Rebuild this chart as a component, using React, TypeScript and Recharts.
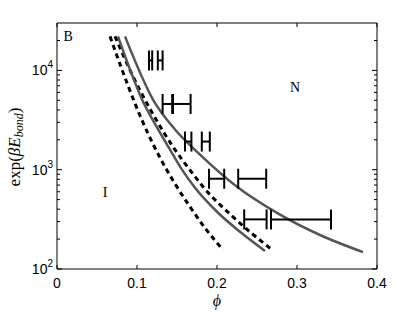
import React from 'react';
import {
  ComposedChart,
  Line,
  Scatter,
  ErrorBar,
  XAxis,
  YAxis,
  ReferenceArea,
  ReferenceDot
} from 'recharts';

// boundary curves (phi, exp(beta E_bond))
const dashedLeft = [
  { x: 0.06625, y: 22000 },
  { x: 0.08125, y: 10200 },
  { x: 0.0975, y: 4640 },
  { x: 0.11375, y: 2310 },
  { x: 0.12875, y: 1320 },
  { x: 0.1475, y: 722 },
  { x: 0.16625, y: 423 },
  { x: 0.185, y: 259 },
  { x: 0.2075, y: 156 }
];
const solidLeft = [
  { x: 0.07625, y: 22000 },
  { x: 0.09125, y: 10200 },
  { x: 0.10625, y: 5090 },
  { x: 0.12375, y: 2780 },
  { x: 0.14125, y: 1590 },
  { x: 0.15625, y: 1000 },
  { x: 0.1725, y: 658 },
  { x: 0.2, y: 377 },
  { x: 0.22875, y: 237 },
  { x: 0.26, y: 152 }
];
const dashedRight = [
  { x: 0.0725, y: 22000 },
  { x: 0.09375, y: 9120 },
  { x: 0.11875, y: 3770 },
  { x: 0.1475, y: 1590 },
  { x: 0.16875, y: 933 },
  { x: 0.1825, y: 674 },
  { x: 0.22, y: 335 },
  { x: 0.26875, y: 156 }
];
const solidRight = [
  { x: 0.085, y: 22000 },
  { x: 0.12, y: 5090 },
  { x: 0.1475, y: 2540 },
  { x: 0.17875, y: 1420 },
  { x: 0.225, y: 674 },
  { x: 0.275, y: 368 },
  { x: 0.32875, y: 220 },
  { x: 0.3825, y: 148 }
];

// measured transition points with horizontal error
const errPoints = [
  { x: 0.117, y: 12600, err: 0.002 },
  { x: 0.129, y: 12600, err: 0.003 },
  { x: 0.138, y: 4590, err: 0.006 },
  { x: 0.156, y: 4590, err: 0.011 },
  { x: 0.164, y: 1920, err: 0.004 },
  { x: 0.186, y: 1920, err: 0.005 },
  { x: 0.1995, y: 811, err: 0.0095 },
  { x: 0.244, y: 811, err: 0.0175 },
  { x: 0.248, y: 316, err: 0.014 },
  { x: 0.305, y: 316, err: 0.0375 }
];

const xTicks = [0, 0.1, 0.2, 0.3, 0.4];
const yMajor = [100, 1000, 10000];
const yTicks = [
  100, 200, 300, 400, 500, 600, 700, 800, 900,
  1000, 2000, 3000, 4000, 5000, 6000, 7000, 8000, 9000,
  10000, 20000
];

const regionLabels = [
  { x: 0.014, y: 22000, text: 'B' },
  { x: 0.2975, y: 6730, text: 'N' },
  { x: 0.06, y: 600, text: 'I' }
];

const PLOT_W = 320;
const PLOT_H = 246;
const SANS = '"Liberation Sans", Arial, sans-serif';
const SERIF = '"Liberation Serif", "Times New Roman", serif';

function YTick(props: any) {
  const { x, y, payload } = props;
  const major = yMajor.includes(payload.value);
  const len = major ? 5 : 3;
  const exp = Math.round(Math.log10(payload.value));
  return (
    <g>
      <line x1={x} x2={x + len} y1={y} y2={y} stroke="#000" />
      <line x1={x + PLOT_W} x2={x + PLOT_W - len} y1={y} y2={y} stroke="#000" />
      {major && (
        <text x={x - 4} y={y + 5} textAnchor="end" fontSize={14} fontFamily={SANS} fill="#000">
          10
          <tspan dy={-7} fontSize={10}>{exp}</tspan>
        </text>
      )}
    </g>
  );
}

function XTick(props: any) {
  const { x, y, payload } = props;
  return (
    <g>
      <line x1={x} x2={x} y1={y} y2={y - 4} stroke="#000" />
      <line x1={x} x2={x} y1={y - PLOT_H} y2={y - PLOT_H + 4} stroke="#000" />
      <text x={x} y={y + 19} textAnchor="middle" fontSize={14} fontFamily={SANS} fill="#000">
        {String(payload.value)}
      </text>
    </g>
  );
}

function YLabel() {
  return (
    <text transform="rotate(-90)" x={-147} y={20} textAnchor="middle" fontSize={17} fontFamily={SERIF} fill="#000">
      exp(
      <tspan fontStyle="italic">βE</tspan>
      <tspan fontStyle="italic" fontSize={12} dy={3}>bond</tspan>
      <tspan dy={-3}>)</tspan>
    </text>
  );
}

function XLabel() {
  return (
    <text x={217} y={306} textAnchor="middle" fontSize={16} fontStyle="italic" fontFamily={SERIF} fill="#000">
      ϕ
    </text>
  );
}

const noShape = () => <g />;

export default function App() {
  return (
    <div style={{ position: 'absolute', left: 0, top: 0, background: '#fff' }}>
      <ComposedChart width={415} height={312} margin={{ top: 23, right: 38, bottom: 0, left: 0 }}>
        <XAxis
          type="number"
          dataKey="x"
          domain={[0, 0.4]}
          ticks={xTicks}
          allowDataOverflow
          height={43}
          axisLine={false}
          tickLine={false}
          tickSize={0}
          tickMargin={0}
          tick={<XTick />}
          label={<XLabel />}
        />
        <YAxis
          type="number"
          scale="log"
          domain={[100, 30000]}
          ticks={yTicks}
          allowDataOverflow
          width={57}
          axisLine={false}
          tickLine={false}
          tickSize={0}
          tickMargin={0}
          interval={0}
          tick={<YTick />}
          label={<YLabel />}
        />
        <ReferenceArea x1={0} x2={0.4} y1={100} y2={30000} fill="none" stroke="#000" strokeWidth={1} />
        <Line data={dashedLeft} dataKey="y" type="monotone" stroke="#000" strokeWidth={3} strokeDasharray="5 4" dot={false} isAnimationActive={false} />
        <Line data={dashedRight} dataKey="y" type="monotone" stroke="#000" strokeWidth={3} strokeDasharray="5 4" dot={false} isAnimationActive={false} />
        <Line data={solidLeft} dataKey="y" type="monotone" stroke="#555" strokeWidth={2.5} dot={false} isAnimationActive={false} />
        <Line data={solidRight} dataKey="y" type="monotone" stroke="#555" strokeWidth={2.5} dot={false} isAnimationActive={false} />
        <Scatter data={errPoints} dataKey="y" shape={noShape} isAnimationActive={false}>
          <ErrorBar dataKey="err" direction="x" width={10} stroke="#000" strokeWidth={2} isAnimationActive={false} />
        </Scatter>
        {regionLabels.map((r) => (
          <ReferenceDot
            key={r.text}
            x={r.x}
            y={r.y}
            r={0}
            fill="none"
            stroke="none"
            label={{ value: r.text, position: 'center', fontSize: 14, fontFamily: SERIF, fill: '#000' }}
          />
        ))}
      </ComposedChart>
    </div>
  );
}
